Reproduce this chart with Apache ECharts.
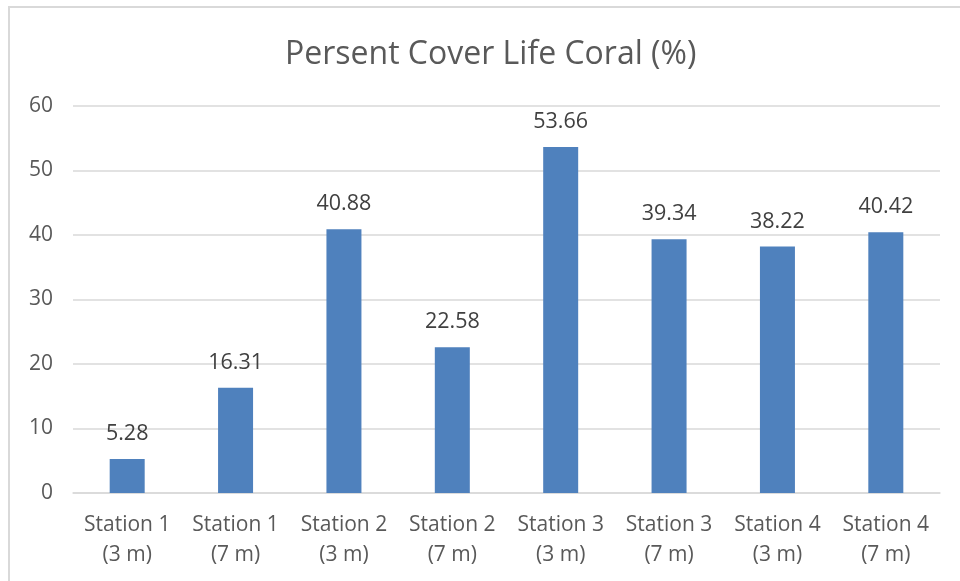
<!DOCTYPE html>
<html>
<head>
<meta charset="utf-8">
<style>
  html, body { margin: 0; padding: 0; background: #fff; }
  #chart { width: 960px; height: 581px; }
</style>
<script src="https://cdn.jsdelivr.net/npm/echarts@6/dist/echarts.min.js"></script>
</head>
<body>
<div id="chart"></div>
<script>
// Live coral cover per station and depth
const stations = ['Station 1', 'Station 1', 'Station 2', 'Station 2', 'Station 3', 'Station 3', 'Station 4', 'Station 4'];
const depths = ['(3 m)', '(7 m)', '(3 m)', '(7 m)', '(3 m)', '(7 m)', '(3 m)', '(7 m)'];
const coverValues = [5.28, 16.31, 40.88, 22.58, 53.66, 39.34, 38.22, 40.42];
const yTicks = { min: 0, max: 60, interval: 10 };

const categories = stations.map((s, i) => s + '\n' + depths[i]);

const font = '"Open Sans", "Noto Sans", sans-serif';
const chart = echarts.init(document.getElementById('chart'), null, { renderer: 'canvas' });

chart.setOption({
  backgroundColor: '#ffffff',
  animation: false,
  title: {
    text: 'Persent Cover Life Coral (%)',
    left: 280,
    top: 34,
    textStyle: { fontFamily: font, fontSize: 32, fontWeight: 'normal', color: '#595959' }
  },
  graphic: [{
    type: 'rect',
    shape: { x: 9, y: 7, width: 1000, height: 700 },
    style: { fill: 'none', stroke: '#d9d9d9', lineWidth: 2 },
    silent: true
  }],
  grid: { left: 73, right: 20, top: 106, bottom: 88 },
  xAxis: {
    type: 'category',
    data: categories,
    axisLine: { show: true, lineStyle: { color: '#d9d9d9', width: 1.5 } },
    axisTick: { show: false },
    axisLabel: {
      fontFamily: font, fontSize: 21, color: '#595959',
      lineHeight: 30, margin: 17, interval: 0
    }
  },
  yAxis: {
    type: 'value',
    min: yTicks.min, max: yTicks.max, interval: yTicks.interval,
    axisLine: { show: false },
    axisTick: { show: false },
    splitLine: { lineStyle: { color: '#d9d9d9', width: 1.5 } },
    axisLabel: { fontFamily: font, fontSize: 21, color: '#595959', margin: 20 }
  },
  series: [{
    type: 'bar',
    data: coverValues,
    barWidth: 35,
    itemStyle: { color: '#4f81bd' },
    label: {
      show: true,
      position: 'top',
      distance: 14,
      fontFamily: font, fontSize: 21.5, color: '#404040',
      formatter: p => p.value.toFixed(2)
    }
  }]
});
</script>
</body>
</html>
